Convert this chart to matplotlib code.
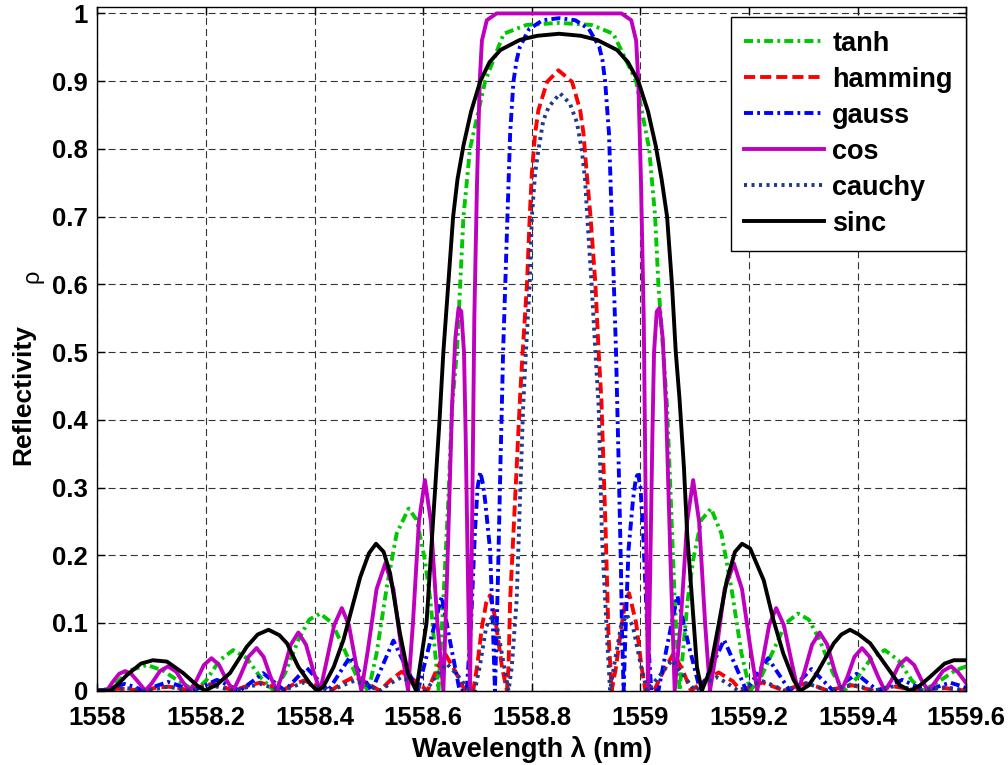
import numpy as np
import matplotlib
matplotlib.use("Agg")
import matplotlib.pyplot as plt

plt.rcParams['font.family'] = ['Liberation Sans', 'DejaVu Sans']
plt.rcParams['font.weight'] = 'bold'
plt.rcParams['lines.scale_dashes'] = False

# (wavelength nm, reflectivity)
tanh_pts = [(1558.000, 0.0), (1558.011, 0.0), (1558.035, 0.012), (1558.060, 0.030), (1558.091, 0.038),
            (1558.120, 0.030), (1558.150, 0.014), (1558.180, 0.0), (1558.200, 0.015), (1558.225, 0.045),
            (1558.250, 0.060), (1558.275, 0.048), (1558.300, 0.020), (1558.325, 0.0), (1558.345, 0.025),
            (1558.370, 0.075), (1558.390, 0.105), (1558.410, 0.114), (1558.432, 0.100), (1558.455, 0.060),
            (1558.478, 0.020), (1558.499, 0.0), (1558.514, 0.055), (1558.533, 0.154), (1558.551, 0.232),
            (1558.573, 0.269), (1558.588, 0.252), (1558.603, 0.193), (1558.613, 0.134), (1558.622, 0.055),
            (1558.628, 0.0), (1558.637, 0.134), (1558.646, 0.280), (1558.653, 0.420), (1558.662, 0.500),
            (1558.668, 0.600), (1558.674, 0.700), (1558.686, 0.800), (1558.714, 0.900), (1558.748, 0.970),
            (1558.790, 0.983), (1558.850, 0.986), (1558.910, 0.983), (1558.950, 0.970), (1558.992, 0.900),
            (1559.016, 0.800), (1559.027, 0.700), (1559.033, 0.600), (1559.042, 0.500), (1559.049, 0.420),
            (1559.056, 0.280), (1559.063, 0.134), (1559.072, 0.0), (1559.078, 0.055), (1559.087, 0.134),
            (1559.097, 0.193), (1559.112, 0.252), (1559.130, 0.269), (1559.149, 0.232), (1559.167, 0.154),
            (1559.186, 0.055), (1559.202, 0.0), (1559.222, 0.020), (1559.245, 0.060), (1559.268, 0.100),
            (1559.290, 0.114), (1559.310, 0.105), (1559.330, 0.075), (1559.355, 0.025), (1559.375, 0.0),
            (1559.400, 0.020), (1559.425, 0.048), (1559.450, 0.060), (1559.475, 0.045), (1559.500, 0.015),
            (1559.520, 0.0), (1559.550, 0.014), (1559.580, 0.030), (1559.600, 0.036)]

hamming_pts = [(1558.000, 0.0), (1558.020, 0.002), (1558.040, 0.003), (1558.060, 0.002), (1558.080, 0.0),
               (1558.105, 0.004), (1558.130, 0.006), (1558.150, 0.004), (1558.170, 0.0), (1558.190, 0.006),
               (1558.210, 0.010), (1558.230, 0.006), (1558.250, 0.0), (1558.275, 0.007), (1558.300, 0.012),
               (1558.320, 0.007), (1558.340, 0.0), (1558.360, 0.009), (1558.380, 0.015), (1558.405, 0.008),
               (1558.430, 0.0), (1558.452, 0.012), (1558.474, 0.021), (1558.497, 0.011), (1558.520, 0.0),
               (1558.540, 0.016), (1558.560, 0.028), (1558.584, 0.015), (1558.608, 0.0), (1558.624, 0.030),
               (1558.640, 0.055), (1558.658, 0.030), (1558.677, 0.0), (1558.692, 0.0), (1558.699, 0.035),
               (1558.708, 0.094), (1558.716, 0.130), (1558.723, 0.141), (1558.732, 0.109), (1558.745, 0.035),
               (1558.754, 0.0), (1558.757, 0.035), (1558.760, 0.134), (1558.766, 0.232), (1558.772, 0.330),
               (1558.778, 0.430), (1558.783, 0.500), (1558.791, 0.600), (1558.796, 0.700), (1558.800, 0.764),
               (1558.806, 0.823), (1558.812, 0.857), (1558.828, 0.899), (1558.849, 0.916), (1558.874, 0.899),
               (1558.889, 0.857), (1558.895, 0.823), (1558.901, 0.764), (1558.908, 0.700), (1558.917, 0.600),
               (1558.923, 0.500), (1558.928, 0.430), (1558.932, 0.330), (1558.936, 0.232), (1558.941, 0.085),
               (1558.947, 0.0), (1558.955, 0.035), (1558.966, 0.100), (1558.973, 0.135), (1558.979, 0.144),
               (1558.992, 0.100), (1559.002, 0.035), (1559.009, 0.0), (1559.025, 0.0), (1559.043, 0.030),
               (1559.061, 0.055), (1559.078, 0.030), (1559.093, 0.0), (1559.118, 0.015), (1559.144, 0.027),
               (1559.170, 0.014), (1559.185, 0.0), (1559.205, 0.007), (1559.225, 0.012), (1559.245, 0.006),
               (1559.265, 0.0), (1559.285, 0.006), (1559.305, 0.011), (1559.325, 0.006), (1559.345, 0.0),
               (1559.370, 0.005), (1559.390, 0.008), (1559.410, 0.004), (1559.430, 0.0), (1559.450, 0.004),
               (1559.470, 0.006), (1559.490, 0.003), (1559.510, 0.0), (1559.540, 0.003), (1559.560, 0.004),
               (1559.580, 0.002), (1559.600, 0.0)]

gauss_pts = [(1558.000, 0.0), (1558.020, 0.002), (1558.035, 0.007), (1558.050, 0.010), (1558.067, 0.006),
             (1558.085, 0.0), (1558.108, 0.007), (1558.130, 0.013), (1558.152, 0.007), (1558.175, 0.0),
             (1558.198, 0.008), (1558.220, 0.016), (1558.241, 0.008), (1558.262, 0.0), (1558.284, 0.013),
             (1558.305, 0.026), (1558.325, 0.013), (1558.345, 0.0), (1558.365, 0.017), (1558.385, 0.034),
             (1558.405, 0.017), (1558.425, 0.0), (1558.445, 0.025), (1558.465, 0.050), (1558.485, 0.025),
             (1558.505, 0.0), (1558.525, 0.037), (1558.545, 0.074), (1558.567, 0.037), (1558.590, 0.0),
             (1558.612, 0.070), (1558.634, 0.139), (1558.650, 0.070), (1558.667, 0.0), (1558.680, 0.0),
             (1558.688, 0.100), (1558.695, 0.232), (1558.700, 0.300), (1558.705, 0.323), (1558.710, 0.305),
             (1558.714, 0.280), (1558.723, 0.208), (1558.728, 0.100), (1558.732, 0.0), (1558.735, 0.085),
             (1558.738, 0.183), (1558.742, 0.330), (1558.745, 0.430), (1558.747, 0.500), (1558.751, 0.600),
             (1558.755, 0.700), (1558.760, 0.823), (1558.766, 0.899), (1558.772, 0.931), (1558.778, 0.951),
             (1558.795, 0.977), (1558.820, 0.990), (1558.850, 0.993), (1558.880, 0.990), (1558.905, 0.977),
             (1558.924, 0.951), (1558.930, 0.931), (1558.935, 0.899), (1558.942, 0.823), (1558.947, 0.700),
             (1558.951, 0.600), (1558.955, 0.500), (1558.957, 0.430), (1558.960, 0.330), (1558.964, 0.183),
             (1558.966, 0.085), (1558.969, 0.0), (1558.973, 0.100), (1558.978, 0.208), (1558.986, 0.280),
             (1558.990, 0.305), (1558.995, 0.323), (1559.000, 0.300), (1559.005, 0.232), (1559.012, 0.100),
             (1559.020, 0.0), (1559.033, 0.0), (1559.050, 0.070), (1559.068, 0.140), (1559.088, 0.070),
             (1559.110, 0.0), (1559.132, 0.037), (1559.154, 0.075), (1559.175, 0.037), (1559.195, 0.0),
             (1559.215, 0.025), (1559.235, 0.048), (1559.255, 0.024), (1559.275, 0.0), (1559.295, 0.016),
             (1559.315, 0.032), (1559.335, 0.016), (1559.355, 0.0), (1559.377, 0.013), (1559.398, 0.025),
             (1559.418, 0.012), (1559.438, 0.0), (1559.460, 0.008), (1559.482, 0.016), (1559.504, 0.008),
             (1559.525, 0.0), (1559.548, 0.006), (1559.570, 0.012), (1559.590, 0.007), (1559.600, 0.004)]

cos_pts = [(1558.000, 0.0), (1558.017, 0.0), (1558.030, 0.015), (1558.040, 0.025), (1558.051, 0.029),
           (1558.062, 0.025), (1558.075, 0.013), (1558.088, 0.0), (1558.100, 0.011), (1558.115, 0.029),
           (1558.130, 0.036), (1558.145, 0.028), (1558.158, 0.012), (1558.170, 0.0), (1558.182, 0.015),
           (1558.196, 0.038), (1558.210, 0.048), (1558.224, 0.038), (1558.238, 0.015), (1558.250, 0.0),
           (1558.262, 0.020), (1558.278, 0.050), (1558.293, 0.063), (1558.306, 0.050), (1558.319, 0.020),
           (1558.330, 0.0), (1558.342, 0.028), (1558.356, 0.068), (1558.370, 0.086), (1558.384, 0.068),
           (1558.398, 0.028), (1558.410, 0.0), (1558.421, 0.040), (1558.436, 0.097), (1558.450, 0.122),
           (1558.463, 0.097), (1558.476, 0.040), (1558.486, 0.0), (1558.498, 0.060), (1558.514, 0.150),
           (1558.530, 0.188), (1558.545, 0.150), (1558.560, 0.060), (1558.572, 0.0), (1558.581, 0.100),
           (1558.592, 0.250), (1558.603, 0.311), (1558.614, 0.250), (1558.626, 0.100), (1558.637, 0.0),
           (1558.645, 0.200), (1558.653, 0.420), (1558.659, 0.520), (1558.665, 0.565), (1558.670, 0.560),
           (1558.675, 0.500), (1558.678, 0.380), (1558.682, 0.180), (1558.686, 0.0), (1558.690, 0.250),
           (1558.694, 0.550), (1558.699, 0.750), (1558.704, 0.900), (1558.708, 0.960), (1558.717, 0.990),
           (1558.735, 1.0), (1558.965, 1.0), (1558.983, 0.990), (1558.992, 0.960), (1558.996, 0.900),
           (1559.001, 0.750), (1559.006, 0.550), (1559.010, 0.250), (1559.014, 0.0), (1559.018, 0.180),
           (1559.022, 0.380), (1559.025, 0.500), (1559.030, 0.560), (1559.035, 0.565), (1559.041, 0.520),
           (1559.047, 0.420), (1559.055, 0.200), (1559.063, 0.0), (1559.074, 0.100), (1559.086, 0.250),
           (1559.097, 0.311), (1559.108, 0.250), (1559.119, 0.100), (1559.128, 0.0), (1559.140, 0.060),
           (1559.155, 0.150), (1559.172, 0.188), (1559.187, 0.150), (1559.203, 0.060), (1559.215, 0.0),
           (1559.224, 0.040), (1559.237, 0.097), (1559.250, 0.122), (1559.264, 0.097), (1559.279, 0.040),
           (1559.290, 0.0), (1559.302, 0.028), (1559.316, 0.068), (1559.330, 0.086), (1559.344, 0.068),
           (1559.358, 0.028), (1559.370, 0.0), (1559.381, 0.020), (1559.394, 0.050), (1559.408, 0.063),
           (1559.422, 0.050), (1559.438, 0.020), (1559.450, 0.0), (1559.462, 0.015), (1559.476, 0.038),
           (1559.490, 0.048), (1559.504, 0.038), (1559.518, 0.015), (1559.530, 0.0), (1559.542, 0.012),
           (1559.557, 0.029), (1559.572, 0.036), (1559.585, 0.027), (1559.600, 0.011)]

cauchy_pts = [(1558.000, 0.0), (1558.025, 0.002), (1558.050, 0.004), (1558.070, 0.002), (1558.090, 0.0),
              (1558.110, 0.003), (1558.130, 0.006), (1558.150, 0.003), (1558.170, 0.0), (1558.190, 0.004),
              (1558.210, 0.008), (1558.230, 0.004), (1558.250, 0.0), (1558.275, 0.005), (1558.300, 0.010),
              (1558.320, 0.005), (1558.340, 0.0), (1558.360, 0.006), (1558.380, 0.012), (1558.405, 0.006),
              (1558.430, 0.0), (1558.452, 0.008), (1558.474, 0.015), (1558.497, 0.008), (1558.520, 0.0),
              (1558.540, 0.011), (1558.560, 0.020), (1558.583, 0.011), (1558.605, 0.0), (1558.624, 0.022),
              (1558.643, 0.040), (1558.664, 0.022), (1558.685, 0.0), (1558.695, 0.0), (1558.705, 0.040),
              (1558.716, 0.095), (1558.726, 0.108), (1558.737, 0.090), (1558.748, 0.040), (1558.757, 0.0),
              (1558.763, 0.035), (1558.772, 0.134), (1558.778, 0.280), (1558.784, 0.420), (1558.789, 0.500),
              (1558.796, 0.600), (1558.800, 0.700), (1558.806, 0.764), (1558.812, 0.798), (1558.821, 0.842),
              (1558.831, 0.862), (1558.852, 0.882), (1558.870, 0.867), (1558.883, 0.839), (1558.892, 0.798),
              (1558.898, 0.754), (1558.902, 0.700), (1558.910, 0.600), (1558.917, 0.500), (1558.923, 0.420),
              (1558.929, 0.230), (1558.938, 0.085), (1558.944, 0.0), (1558.952, 0.040), (1558.964, 0.095),
              (1558.975, 0.112), (1558.986, 0.095), (1559.000, 0.040), (1559.012, 0.0), (1559.035, 0.022),
              (1559.058, 0.045), (1559.080, 0.022), (1559.100, 0.0), (1559.120, 0.011), (1559.140, 0.020),
              (1559.160, 0.011), (1559.180, 0.0), (1559.203, 0.008), (1559.225, 0.014), (1559.247, 0.007),
              (1559.265, 0.0), (1559.285, 0.006), (1559.305, 0.011), (1559.325, 0.006), (1559.345, 0.0),
              (1559.370, 0.005), (1559.390, 0.009), (1559.410, 0.005), (1559.430, 0.0), (1559.450, 0.004),
              (1559.470, 0.007), (1559.490, 0.004), (1559.510, 0.0), (1559.540, 0.003), (1559.560, 0.005),
              (1559.580, 0.003), (1559.600, 0.0)]

sinc_pts = [(1558.000, 0.0), (1558.023, 0.0), (1558.038, 0.010), (1558.054, 0.023), (1558.080, 0.040),
            (1558.102, 0.045), (1558.128, 0.043), (1558.158, 0.026), (1558.183, 0.008), (1558.198, 0.0),
            (1558.220, 0.009), (1558.244, 0.026), (1558.275, 0.065), (1558.295, 0.083), (1558.315, 0.090),
            (1558.335, 0.082), (1558.349, 0.070), (1558.370, 0.035), (1558.391, 0.011), (1558.404, 0.0),
            (1558.416, 0.006), (1558.435, 0.035), (1558.453, 0.075), (1558.484, 0.168), (1558.500, 0.203),
            (1558.513, 0.217), (1558.527, 0.205), (1558.539, 0.173), (1558.557, 0.085), (1558.572, 0.025),
            (1558.587, 0.0), (1558.606, 0.100), (1558.614, 0.200), (1558.622, 0.300), (1558.630, 0.400),
            (1558.637, 0.500), (1558.646, 0.600), (1558.655, 0.700), (1558.663, 0.755), (1558.674, 0.805),
            (1558.688, 0.855), (1558.705, 0.900), (1558.722, 0.928), (1558.742, 0.946), (1558.778, 0.961),
            (1558.810, 0.967), (1558.850, 0.970), (1558.890, 0.967), (1558.920, 0.961), (1558.957, 0.946),
            (1558.977, 0.928), (1558.996, 0.900), (1559.014, 0.855), (1559.028, 0.805), (1559.039, 0.755),
            (1559.049, 0.700), (1559.058, 0.600), (1559.065, 0.500), (1559.072, 0.430), (1559.080, 0.330),
            (1559.086, 0.232), (1559.095, 0.134), (1559.104, 0.035), (1559.113, 0.0), (1559.128, 0.030),
            (1559.141, 0.085), (1559.159, 0.163), (1559.174, 0.205), (1559.187, 0.217), (1559.202, 0.210),
            (1559.227, 0.163), (1559.245, 0.104), (1559.263, 0.055), (1559.282, 0.016), (1559.294, 0.0),
            (1559.310, 0.008), (1559.325, 0.026), (1559.356, 0.070), (1559.370, 0.083), (1559.386, 0.090),
            (1559.402, 0.083), (1559.423, 0.070), (1559.454, 0.035), (1559.478, 0.008), (1559.497, 0.0),
            (1559.515, 0.008), (1559.534, 0.021), (1559.560, 0.040), (1559.577, 0.045), (1559.600, 0.045)]

labels = ['tanh', 'hamming', 'gauss', 'cos', 'cauchy', 'sinc']
series = [tanh_pts, hamming_pts, gauss_pts, cos_pts, cauchy_pts, sinc_pts]
colors = ['#00c800', '#ff0000', '#0000ff', '#bf00bf', '#1f3a8c', '#000000']
dash_styles = [(0, (6.5, 3, 2, 3)), (0, (8, 3.6)), (0, (6.5, 3, 2, 3)), '-', (0, (2.2, 3.2)), '-']

xticks = [1558, 1558.2, 1558.4, 1558.6, 1558.8, 1559, 1559.2, 1559.4, 1559.6]
xtick_labels = ['1558', '1558.2', '1558.4', '1558.6', '1558.8', '1559', '1559.2', '1559.4', '1559.6']
yticks = [0, 0.1, 0.2, 0.3, 0.4, 0.5, 0.6, 0.7, 0.8, 0.9, 1.0]
ytick_labels = ['0', '0.1', '0.2', '0.3', '0.4', '0.5', '0.6', '0.7', '0.8', '0.9', '1']

fig = plt.figure(figsize=(10.08, 7.65), dpi=100)
ax = fig.add_axes([0.0967, 0.0971, 0.8619, 0.8933])

for pts, lab, col, ls in zip(series, labels, colors, dash_styles):
    x, y = zip(*pts)
    ax.plot(x, y, color=col, linestyle=ls, linewidth=2.8, label=lab, dash_capstyle='butt')

ax.set_xlim(1558, 1559.6)
ax.set_ylim(0, 1.009)
ax.set_xticks(xticks)
ax.set_xticklabels(xtick_labels)
ax.set_yticks(yticks)
ax.set_yticklabels(ytick_labels)
ax.tick_params(direction='in', length=6, width=1, top=True, right=True, labelsize=18.5)
ax.tick_params(axis='x', pad=11)
ax.tick_params(axis='y', pad=7)
for lbl in ax.get_xticklabels() + ax.get_yticklabels():
    lbl.set_fontweight('bold')
ax.grid(True, color='0.2', linestyle=(0, (5, 3)), linewidth=0.8)
for sp in ax.spines.values():
    sp.set_linewidth(1.0)

ax.set_xlabel('Wavelength λ (nm)', fontsize=19.5, fontweight='bold', labelpad=4)
ax.set_ylabel('Reflectivity', fontsize=19, fontweight='bold')
ax.yaxis.set_label_coords(-0.072, 0.4334)
ax.text(-0.0745, 0.607, 'ρ', transform=ax.transAxes, rotation=90, fontsize=17,
        fontweight='normal', ha='center', va='center')

leg = ax.legend(loc='upper right', bbox_to_anchor=(1.0, 0.9854), borderaxespad=0,
                prop={'weight': 'bold', 'size': 19.5}, fancybox=False, framealpha=1,
                edgecolor='black', handlelength=2.95, handletextpad=0.3,
                borderpad=0.5, labelspacing=0.37)
leg.get_frame().set_linewidth(1.0)

fig.savefig('out.png', dpi=100)
